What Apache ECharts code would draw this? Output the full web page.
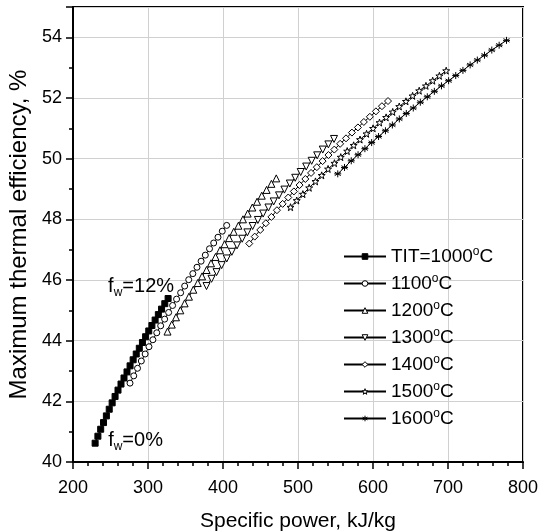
<!DOCTYPE html>
<html>
<head>
<meta charset="utf-8">
<script src="https://cdn.jsdelivr.net/npm/echarts@6/dist/echarts.min.js"></script>
<style>
  html, body { margin: 0; padding: 0; background: #fff; }
  #main { width: 549px; height: 532px; }
</style>
</head>
<body>
<div id="main"></div>
<script>
// turbine inlet temperatures, one curve each (fw = 0 .. 12 %)
var temps = [1000, 1100, 1200, 1300, 1400, 1500, 1600];

// specific power, kJ/kg
var power1000 = [229.5, 233.2, 236.9, 240.7, 244.5, 248.3, 252.2, 256.1, 260.0, 264.0, 268.0, 272.0, 276.1, 280.2, 284.3, 288.4, 292.6, 296.8, 301.0, 305.2, 309.5, 313.8, 318.1, 322.4, 326.8];
var power1100 = [276.0, 281.0, 286.0, 291.1, 296.2, 301.3, 306.5, 311.7, 316.9, 322.2, 327.5, 332.8, 338.1, 343.5, 348.9, 354.3, 359.8, 365.3, 370.8, 376.4, 382.0, 387.6, 393.3, 399.0, 404.9];
var power1200 = [326.0, 331.7, 337.3, 343.1, 348.8, 354.6, 360.4, 366.3, 372.1, 378.1, 384.0, 390.0, 396.0, 402.1, 408.2, 414.3, 420.5, 426.6, 432.9, 439.1, 445.4, 451.7, 458.1, 464.5, 471.0];
var power1300 = [378.0, 384.7, 391.4, 398.2, 405.0, 411.8, 418.7, 425.6, 432.5, 439.5, 446.5, 453.5, 460.6, 467.6, 474.7, 481.9, 489.1, 496.3, 503.6, 510.9, 518.2, 525.6, 533.0, 540.5, 548.0];
var power1400 = [435.0, 442.3, 449.7, 457.1, 464.5, 471.9, 479.5, 487.0, 494.5, 502.1, 509.8, 517.4, 525.1, 532.8, 540.6, 548.4, 556.2, 564.0, 571.9, 579.9, 587.8, 595.8, 603.9, 611.9, 620.0];
var power1500 = [490.0, 498.3, 506.5, 514.9, 523.3, 531.6, 540.1, 548.6, 557.0, 565.6, 574.2, 582.7, 591.4, 600.1, 608.7, 617.5, 626.3, 635.0, 643.9, 652.8, 661.6, 670.6, 679.6, 688.5, 697.6];
var power1600 = [553.0, 562.0, 571.0, 580.1, 589.2, 598.2, 607.4, 616.6, 625.8, 635.1, 644.4, 653.7, 663.1, 672.4, 681.8, 691.3, 700.8, 710.3, 719.9, 729.5, 739.1, 748.7, 758.4, 768.2, 778.0];

// maximum thermal efficiency, %
var eff1000 = [40.62, 40.85, 41.08, 41.30, 41.52, 41.74, 41.95, 42.16, 42.37, 42.57, 42.77, 42.97, 43.17, 43.37, 43.56, 43.75, 43.94, 44.13, 44.32, 44.50, 44.68, 44.86, 45.04, 45.22, 45.39];
var eff1100 = [42.60, 42.84, 43.09, 43.33, 43.56, 43.80, 44.03, 44.26, 44.49, 44.71, 44.93, 45.16, 45.37, 45.58, 45.80, 46.01, 46.21, 46.42, 46.62, 46.82, 47.03, 47.22, 47.41, 47.61, 47.80];
var eff1200 = [44.30, 44.53, 44.77, 45.00, 45.23, 45.45, 45.68, 45.90, 46.12, 46.33, 46.55, 46.76, 46.98, 47.18, 47.38, 47.59, 47.79, 48.00, 48.19, 48.39, 48.58, 48.78, 48.97, 49.17, 49.35];
var eff1300 = [45.80, 46.04, 46.26, 46.49, 46.71, 46.93, 47.14, 47.36, 47.57, 47.78, 47.98, 48.19, 48.39, 48.59, 48.79, 48.98, 49.18, 49.37, 49.56, 49.74, 49.93, 50.11, 50.30, 50.47, 50.65];
var eff1400 = [47.20, 47.43, 47.65, 47.87, 48.08, 48.30, 48.51, 48.72, 48.92, 49.13, 49.33, 49.53, 49.72, 49.92, 50.12, 50.30, 50.49, 50.67, 50.86, 51.03, 51.21, 51.38, 51.56, 51.73, 51.90];
var eff1500 = [48.40, 48.62, 48.83, 49.04, 49.25, 49.45, 49.66, 49.85, 50.05, 50.25, 50.44, 50.63, 50.82, 51.00, 51.19, 51.36, 51.54, 51.72, 51.89, 52.07, 52.24, 52.40, 52.57, 52.73, 52.90];
var eff1600 = [49.50, 49.71, 49.93, 50.13, 50.33, 50.53, 50.73, 50.92, 51.11, 51.31, 51.49, 51.67, 51.86, 52.04, 52.22, 52.40, 52.57, 52.74, 52.91, 53.09, 53.25, 53.41, 53.58, 53.74, 53.90];

var powers = [power1000, power1100, power1200, power1300, power1400, power1500, power1600];
var effs = [eff1000, eff1100, eff1200, eff1300, eff1400, eff1500, eff1600];

var STAR = 'path://M0,-10L2.35,-3.24L9.51,-3.09L3.8,1.24L5.88,8.09L0,4L-5.88,8.09L-3.8,1.24L-9.51,-3.09L-2.35,-3.24Z';
var ASTER = 'path://M0,-10L0,10M-8.66,-5L8.66,5M-8.66,5L8.66,-5M-10,0L10,0';
var symbols = ['rect', 'circle', 'triangle', 'triangle', 'diamond', STAR, ASTER];
var rotates = [0, 0, 0, 180, 0, 0, 0];
var sizes = [6, 6, 7, 7, 7, 7, 7];
var fills = ['#000', '#fff', '#fff', '#fff', '#fff', '#fff', '#000'];

var FONT = 'Liberation Sans, Arial, sans-serif';

var chartDom = document.getElementById('main');
var myChart = echarts.init(chartDom);

var series = temps.map(function (t, i) {
  var pts = powers[i].map(function (p, j) { return [p, effs[i][j]]; });
  return {
    name: String(t),
    type: 'line',
    data: pts,
    symbol: symbols[i],
    symbolRotate: rotates[i],
    symbolSize: sizes[i],
    showAllSymbol: true,
    animation: false,
    lineStyle: { color: '#000', width: 1 },
    itemStyle: { color: fills[i], borderColor: '#000', borderWidth: 1 }
  };
});

var option = {
  backgroundColor: '#fff',
  animation: false,
  grid: {
    left: 73, right: 26, top: 7, bottom: 70,
    outerBoundsMode: 'none',
    show: true, borderColor: '#000', borderWidth: 2
  },
  xAxis: {
    type: 'value',
    min: 200, max: 800, interval: 100,
    name: 'Specific power, kJ/kg',
    nameLocation: 'middle',
    nameGap: 49,
    nameTextStyle: { fontSize: 21, color: '#000', fontFamily: FONT },
    axisLine: { show: true, lineStyle: { color: '#000', width: 2 } },
    axisTick: { show: true, inside: false, length: 7, lineStyle: { color: '#000', width: 1.5 } },
    minorTick: { show: true, splitNumber: 5, length: 4, lineStyle: { color: '#000', width: 1.5 } },
    axisLabel: { fontSize: 18, color: '#000', fontFamily: FONT, margin: 17 },
    splitLine: { show: true, lineStyle: { color: '#d0d0d0', width: 1 } }
  },
  yAxis: {
    type: 'value',
    min: 40, max: 55, interval: 2,
    name: 'Maximum thermal efficiency, %',
    nameLocation: 'middle',
    nameGap: 38,
    nameTextStyle: { fontSize: 24, color: '#000', fontFamily: FONT },
    axisLine: { show: true, lineStyle: { color: '#000', width: 2 } },
    axisTick: { show: true, inside: false, length: 7, lineStyle: { color: '#000', width: 1.5 } },
    minorTick: { show: true, splitNumber: 2, length: 4, lineStyle: { color: '#000', width: 1.5 } },
    axisLabel: { fontSize: 18, color: '#000', fontFamily: FONT, margin: 11, showMaxLabel: false },
    splitLine: { show: true, lineStyle: { color: '#d0d0d0', width: 1 } }
  },
  legend: {
    orient: 'vertical',
    left: 343,
    top: 246,
    padding: 0,
    itemWidth: 42,
    itemHeight: 7,
    itemGap: 6,
    data: temps.map(function (t, i) {
      return {
        name: String(t),
        itemStyle: { color: fills[i], borderColor: '#000', borderWidth: 1 }
      };
    }),
    formatter: function (name) {
      return (name === '1000' ? 'TIT=' : '') + name + '{sup|o}C';
    },
    textStyle: {
      fontSize: 19, color: '#000', fontFamily: FONT, lineHeight: 21,
      rich: {
        sup: { fontSize: 12, color: '#000', fontFamily: FONT, verticalAlign: 'top', lineHeight: 12 }
      }
    }
  },
  series: series
};

myChart.setOption(option);

// f_w annotations at both ends of the 1000 °C curve
var first = myChart.convertToPixel({ gridIndex: 0 }, [power1000[0], eff1000[0]]);
var last = myChart.convertToPixel({ gridIndex: 0 }, [power1000[power1000.length - 1], eff1000[eff1000.length - 1]]);
var annRich = {
  b: { fontSize: 20, fontFamily: FONT, fill: '#000' },
  sub: { fontSize: 12, fontFamily: FONT, fill: '#000', padding: [12, 0, 0, 0] }
};
myChart.setOption({
  graphic: [
    {
      type: 'text', left: first[0] + 13, top: first[1] - 13, z: 100,
      style: { text: '{b|f}{sub|w}{b|=0%}', rich: annRich }
    },
    {
      type: 'text', left: last[0] - 60, top: last[1] - 22, z: 100,
      style: { text: '{b|f}{sub|w}{b|=12%}', rich: annRich }
    }
  ]
});
</script>
</body>
</html>
